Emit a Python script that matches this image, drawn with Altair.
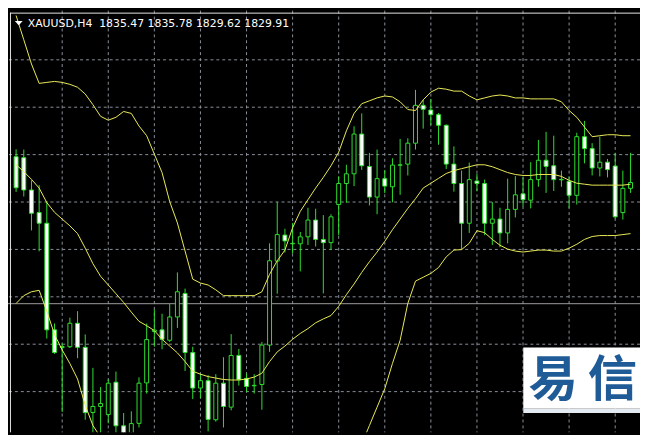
import altair as alt
import pandas as pd

# ---------------- data ----------------
symbol = "XAUUSD"
timeframe = "H4"
last_ohlc = [1835.47, 1835.78, 1829.62, 1829.91]
bid_price = 1829.91

opens = [1845.07, 1844.97, 1841.64, 1839.31, 1838.21, 1827.21, 1825.39, 1825.47, 1827.89, 1825.41,
         1818.69, 1819.31, 1818.47, 1821.81, 1817.31, 1816.14, 1817.57, 1821.74, 1827.04, 1827.21,
         1826.14, 1828.54, 1830.97, 1824.87, 1821.21, 1821.97, 1817.94, 1821.71, 1819.24, 1824.57,
         1822.21, 1821.44, 1821.57, 1825.64, 1834.31, 1836.99, 1836.09, 1836.09, 1836.81, 1838.54,
         1836.54, 1836.21, 1840.14, 1842.31, 1843.31, 1847.41, 1844.07, 1840.91, 1842.81, 1841.97,
         1844.19, 1844.31, 1846.47, 1850.37, 1849.89, 1849.41, 1848.31, 1844.31, 1842.31, 1838.21,
         1842.57, 1842.31, 1838.21, 1838.64, 1837.21, 1839.64, 1841.24, 1840.59, 1842.71, 1844.71,
         1844.14, 1842.69, 1842.54, 1841.09, 1847.14, 1845.91, 1843.91, 1844.51, 1844.11, 1839.31,
         1841.81]
highs = [1845.84, 1845.81, 1842.64, 1842.14, 1840.47, 1827.87, 1825.81, 1828.47, 1829.14, 1826.74,
         1823.29, 1821.31, 1822.11, 1822.91, 1818.64, 1818.81, 1822.31, 1827.87, 1829.31, 1828.87,
         1829.87, 1833.14, 1831.47, 1825.47, 1822.64, 1822.54, 1822.64, 1824.39, 1826.77, 1825.24,
         1822.71, 1822.64, 1825.97, 1836.14, 1840.41, 1837.64, 1838.24, 1837.31, 1839.81, 1839.71,
         1839.04, 1839.14, 1843.04, 1844.24, 1848.21, 1849.54, 1845.47, 1845.81, 1843.71, 1844.91,
         1846.91, 1846.97, 1851.97, 1850.94, 1851.04, 1849.59, 1848.41, 1846.14, 1843.64, 1844.47,
         1843.31, 1842.71, 1840.41, 1839.81, 1842.81, 1843.07, 1842.94, 1844.51, 1846.81, 1847.64,
         1847.24, 1843.64, 1843.04, 1847.54, 1848.77, 1846.47, 1847.14, 1844.84, 1845.47, 1843.64,
         1845.47]
lows = [1841.44, 1840.97, 1837.47, 1835.31, 1826.31, 1824.74, 1818.74, 1825.34, 1824.29, 1817.94,
        1816.44, 1816.44, 1817.57, 1816.44, 1815.94, 1815.64, 1817.14, 1820.64, 1825.47, 1825.21,
        1825.97, 1827.41, 1822.97, 1820.07, 1820.14, 1816.74, 1817.74, 1817.14, 1818.91, 1821.47,
        1820.81, 1820.64, 1818.97, 1824.94, 1830.94, 1835.19, 1835.09, 1833.24, 1835.97, 1835.81,
        1830.97, 1835.47, 1836.97, 1840.31, 1842.04, 1843.71, 1840.04, 1839.14, 1841.31, 1840.37,
        1841.14, 1843.14, 1845.81, 1847.97, 1848.34, 1846.31, 1843.81, 1841.47, 1835.54, 1837.21,
        1841.54, 1836.97, 1835.97, 1835.74, 1836.14, 1838.81, 1839.94, 1839.74, 1841.97, 1841.34,
        1841.54, 1841.97, 1839.81, 1840.14, 1844.39, 1843.14, 1843.04, 1842.94, 1838.69, 1838.59,
        1841.34]
closes = [1841.87, 1841.64, 1839.24, 1838.21, 1827.21, 1824.87, 1825.49, 1827.89, 1825.41, 1818.67,
          1819.31, 1819.61, 1821.71, 1817.31, 1816.34, 1817.54, 1821.71, 1826.21, 1827.19, 1826.24,
          1828.54, 1831.14, 1824.87, 1821.21, 1821.97, 1817.97, 1821.71, 1819.31, 1824.57, 1822.07,
          1821.37, 1821.49, 1825.64, 1834.34, 1837.04, 1836.39, 1836.14, 1836.81, 1838.54, 1836.54,
          1836.21, 1838.87, 1842.31, 1843.31, 1847.41, 1844.14, 1840.91, 1842.81, 1842.04, 1844.21,
          1844.24, 1846.47, 1850.37, 1849.97, 1849.41, 1848.31, 1844.31, 1842.31, 1838.21, 1842.71,
          1842.31, 1838.21, 1838.64, 1837.21, 1839.64, 1841.14, 1840.64, 1842.71, 1844.71, 1844.07,
          1842.71, 1842.74, 1841.09, 1847.14, 1845.91, 1843.91, 1844.51, 1843.74, 1838.87, 1841.81,
          1842.41]

bb_upper = [1859.64, 1857.14, 1854.64, 1852.64, 1852.74, 1852.84, 1852.74, 1852.54, 1852.24, 1851.54,
            1850.44, 1849.24, 1848.84, 1849.14, 1849.74, 1849.54, 1848.24, 1847.24, 1845.34, 1843.44,
            1840.44, 1838.24, 1835.34, 1832.44, 1832.04, 1831.84, 1831.34, 1830.74, 1830.74, 1830.74,
            1830.74, 1830.74, 1831.14, 1832.94, 1834.34, 1835.44, 1837.74, 1839.44, 1840.64, 1841.84,
            1842.94, 1844.14, 1845.54, 1847.74, 1849.54, 1850.54, 1850.84, 1851.14, 1851.34, 1851.24,
            1850.74, 1849.94, 1849.84, 1850.94, 1851.74, 1852.14, 1852.04, 1851.84, 1851.84, 1851.34,
            1850.94, 1851.14, 1851.34, 1851.44, 1851.34, 1851.14, 1851.14, 1851.04, 1851.04, 1851.04,
            1851.04, 1850.74, 1849.84, 1849.14, 1848.14, 1847.14, 1847.24, 1847.34, 1847.34, 1847.24,
            1847.24]
bb_middle = [1844.24, 1843.54, 1842.74, 1841.84, 1840.34, 1839.34, 1838.64, 1837.94, 1837.14, 1835.64,
             1834.04, 1832.74, 1831.84, 1830.94, 1830.04, 1829.04, 1828.09, 1827.64, 1827.14, 1826.24,
             1825.54, 1824.84, 1823.94, 1822.94, 1822.64, 1822.39, 1822.24, 1822.09, 1822.04, 1822.04,
             1822.14, 1822.34, 1822.74, 1823.94, 1824.94, 1825.54, 1826.24, 1826.84, 1827.34, 1827.94,
             1828.34, 1828.69, 1829.64, 1830.84, 1831.94, 1833.14, 1834.24, 1835.24, 1836.34, 1837.54,
             1838.64, 1839.74, 1840.74, 1841.84, 1842.34, 1842.84, 1843.34, 1843.64, 1843.84, 1844.04,
             1844.24, 1844.24, 1844.04, 1843.74, 1843.44, 1843.24, 1843.14, 1843.14, 1843.24, 1843.24,
             1843.24, 1843.04, 1842.64, 1842.34, 1842.24, 1842.14, 1842.14, 1842.14, 1842.14, 1842.14,
             1842.24]
bb_lower = [1829.94, 1830.74, 1831.14, 1831.29, 1829.14, 1826.74, 1825.14, 1823.74, 1822.14, 1819.44,
            1817.34, 1816.14, 1814.84, 1812.74, 1809.94, 1807.94, 1808.14, 1807.94, 1809.04, 1809.04,
            1810.64, 1811.94, 1812.54, 1813.44, 1813.24, 1813.14, 1813.14, 1813.34, 1813.34, 1813.34,
            1813.54, 1813.94, 1814.34, 1814.94, 1815.54, 1815.64, 1814.54, 1814.44, 1814.04, 1814.04,
            1813.94, 1813.34, 1813.74, 1813.94, 1814.34, 1815.44, 1817.34, 1819.24, 1821.14, 1823.74,
            1826.14, 1829.94, 1832.24, 1832.64, 1833.04, 1833.64, 1834.74, 1835.44, 1835.49, 1836.14,
            1837.44, 1837.24, 1836.54, 1835.94, 1835.54, 1835.34, 1835.24, 1835.34, 1835.44, 1835.44,
            1835.34, 1835.34, 1835.64, 1836.04, 1836.54, 1836.84, 1836.94, 1836.94, 1836.94, 1837.04,
            1837.14]

grid_bars = [6, 12, 18, 24, 30, 36, 42, 48, 54, 60, 66, 72, 78]
grid_prices = [1855.07, 1850.18, 1845.29, 1840.40, 1835.51, 1830.62, 1825.73, 1820.84]

logo_chars = ["易", "信"]

# ---------------- styling ----------------
W, H = 640, 427
BG = "#000000"
GRID = "#8a9099"
BID = "#9c9c9c"
GREEN = "#2fe02f"
YELLOW = "#ecec58"
FRAME = "#e6e6e6"
LOGO_BLUE = "#1f5b97"

df = pd.DataFrame({
    "bar": list(range(len(opens))),
    "open": opens, "high": highs, "low": lows, "close": closes,
    "upper": bb_upper, "middle": bb_middle, "lower": bb_lower,
})
df["kind"] = ["bull" if c >= o else "bear" for o, c in zip(opens, closes)]

xs = alt.Scale(domain=[-0.4125, 80.5875], nice=False, zero=False)
ys = alt.Scale(domain=[1816.64, 1860.14], nice=False, zero=False)
X = alt.X("bar:Q", scale=xs, axis=None)

one = pd.DataFrame({"k": [0]})

vgrid = alt.Chart(pd.DataFrame({"g": grid_bars})).mark_rule(
    color=GRID, strokeDash=[3, 3], strokeWidth=1
).encode(x=alt.X("g:Q", scale=xs, axis=None))

hgrid = alt.Chart(pd.DataFrame({"p": grid_prices})).mark_rule(
    color=GRID, strokeDash=[3, 3], strokeWidth=1
).encode(y=alt.Y("p:Q", scale=ys, axis=None))

bid = alt.Chart(pd.DataFrame({"p": [bid_price]})).mark_rule(
    color=BID, strokeWidth=1
).encode(y=alt.Y("p:Q", scale=ys, axis=None))

wicks = alt.Chart(df).mark_rule(color=GREEN, strokeWidth=1, clip=True).encode(
    x=X, y=alt.Y("low:Q", scale=ys, axis=None), y2="high:Q"
)

bodies = alt.Chart(df).mark_bar(size=4, stroke=GREEN, strokeWidth=1, clip=True).encode(
    x=X,
    y=alt.Y("open:Q", scale=ys, axis=None),
    y2="close:Q",
    fill=alt.Fill("kind:N", scale=alt.Scale(domain=["bull", "bear"], range=["#000000", "#ffffff"]),
                  legend=None),
)

bands = [
    alt.Chart(df).mark_line(color=YELLOW, strokeWidth=1, clip=True).encode(
        x=X, y=alt.Y(f"{c}:Q", scale=ys, axis=None)
    )
    for c in ["upper", "middle", "lower"]
]

frame_left = alt.Chart(one).mark_rule(color=FRAME, strokeWidth=1).encode(
    x=alt.value(2.5), y=alt.value(2), y2=alt.value(H)
)
frame_top = alt.Chart(one).mark_rule(color=FRAME, strokeWidth=1).encode(
    y=alt.value(2.5), x=alt.value(2), x2=alt.value(W)
)

header_text = f"{symbol},{timeframe}\u00a0\u00a0" + " ".join(f"{v:.2f}" for v in last_ohlc)
header = alt.Chart(pd.DataFrame({"t": [header_text]})).mark_text(
    align="left", baseline="alphabetic", font="DejaVu Sans", fontSize=11, color="#ffffff"
).encode(text="t:N", x=alt.value(20), y=alt.value(17))

triangle = alt.Chart(one).mark_point(
    shape="M -1 -0.55 L 1 -0.55 L 0 0.55 Z", filled=True, color="#ffffff", size=64, opacity=1
).encode(x=alt.value(10.9), y=alt.value(12.6))

logo_box = alt.Chart(one).mark_rect(color="#ffffff").encode(
    x=alt.value(521.8), x2=alt.value(W), y=alt.value(341.0), y2=alt.value(403.0)
)
logo_strip = alt.Chart(one).mark_rect(color="#e3eaf2").encode(
    x=alt.value(521.8), x2=alt.value(W), y=alt.value(403.0), y2=alt.value(407.4)
)
logo_a = alt.Chart(pd.DataFrame({"t": [logo_chars[0]]})).mark_text(
    align="center", baseline="middle", font="Noto Sans CJK SC", fontSize=50,
    fontWeight="bold", color=LOGO_BLUE
).encode(text="t:N", x=alt.value(552), y=alt.value(375))
logo_b = alt.Chart(pd.DataFrame({"t": [logo_chars[1]]})).mark_text(
    align="left", baseline="middle", font="Noto Sans CJK SC", fontSize=50,
    fontWeight="bold", color=LOGO_BLUE
).encode(text="t:N", x=alt.value(587), y=alt.value(375))

chart = alt.layer(
    vgrid, hgrid, bid, wicks, bodies, *bands,
    frame_left, frame_top, header, triangle,
    logo_box, logo_strip, logo_a, logo_b,
).properties(
    width=W, height=H, background=BG, padding=0,
    autosize=alt.AutoSizeParams(type="none"),
).configure_view(strokeWidth=0, fill=BG)

chart.save("out.html", embed_options={"renderer": "svg", "actions": False})
